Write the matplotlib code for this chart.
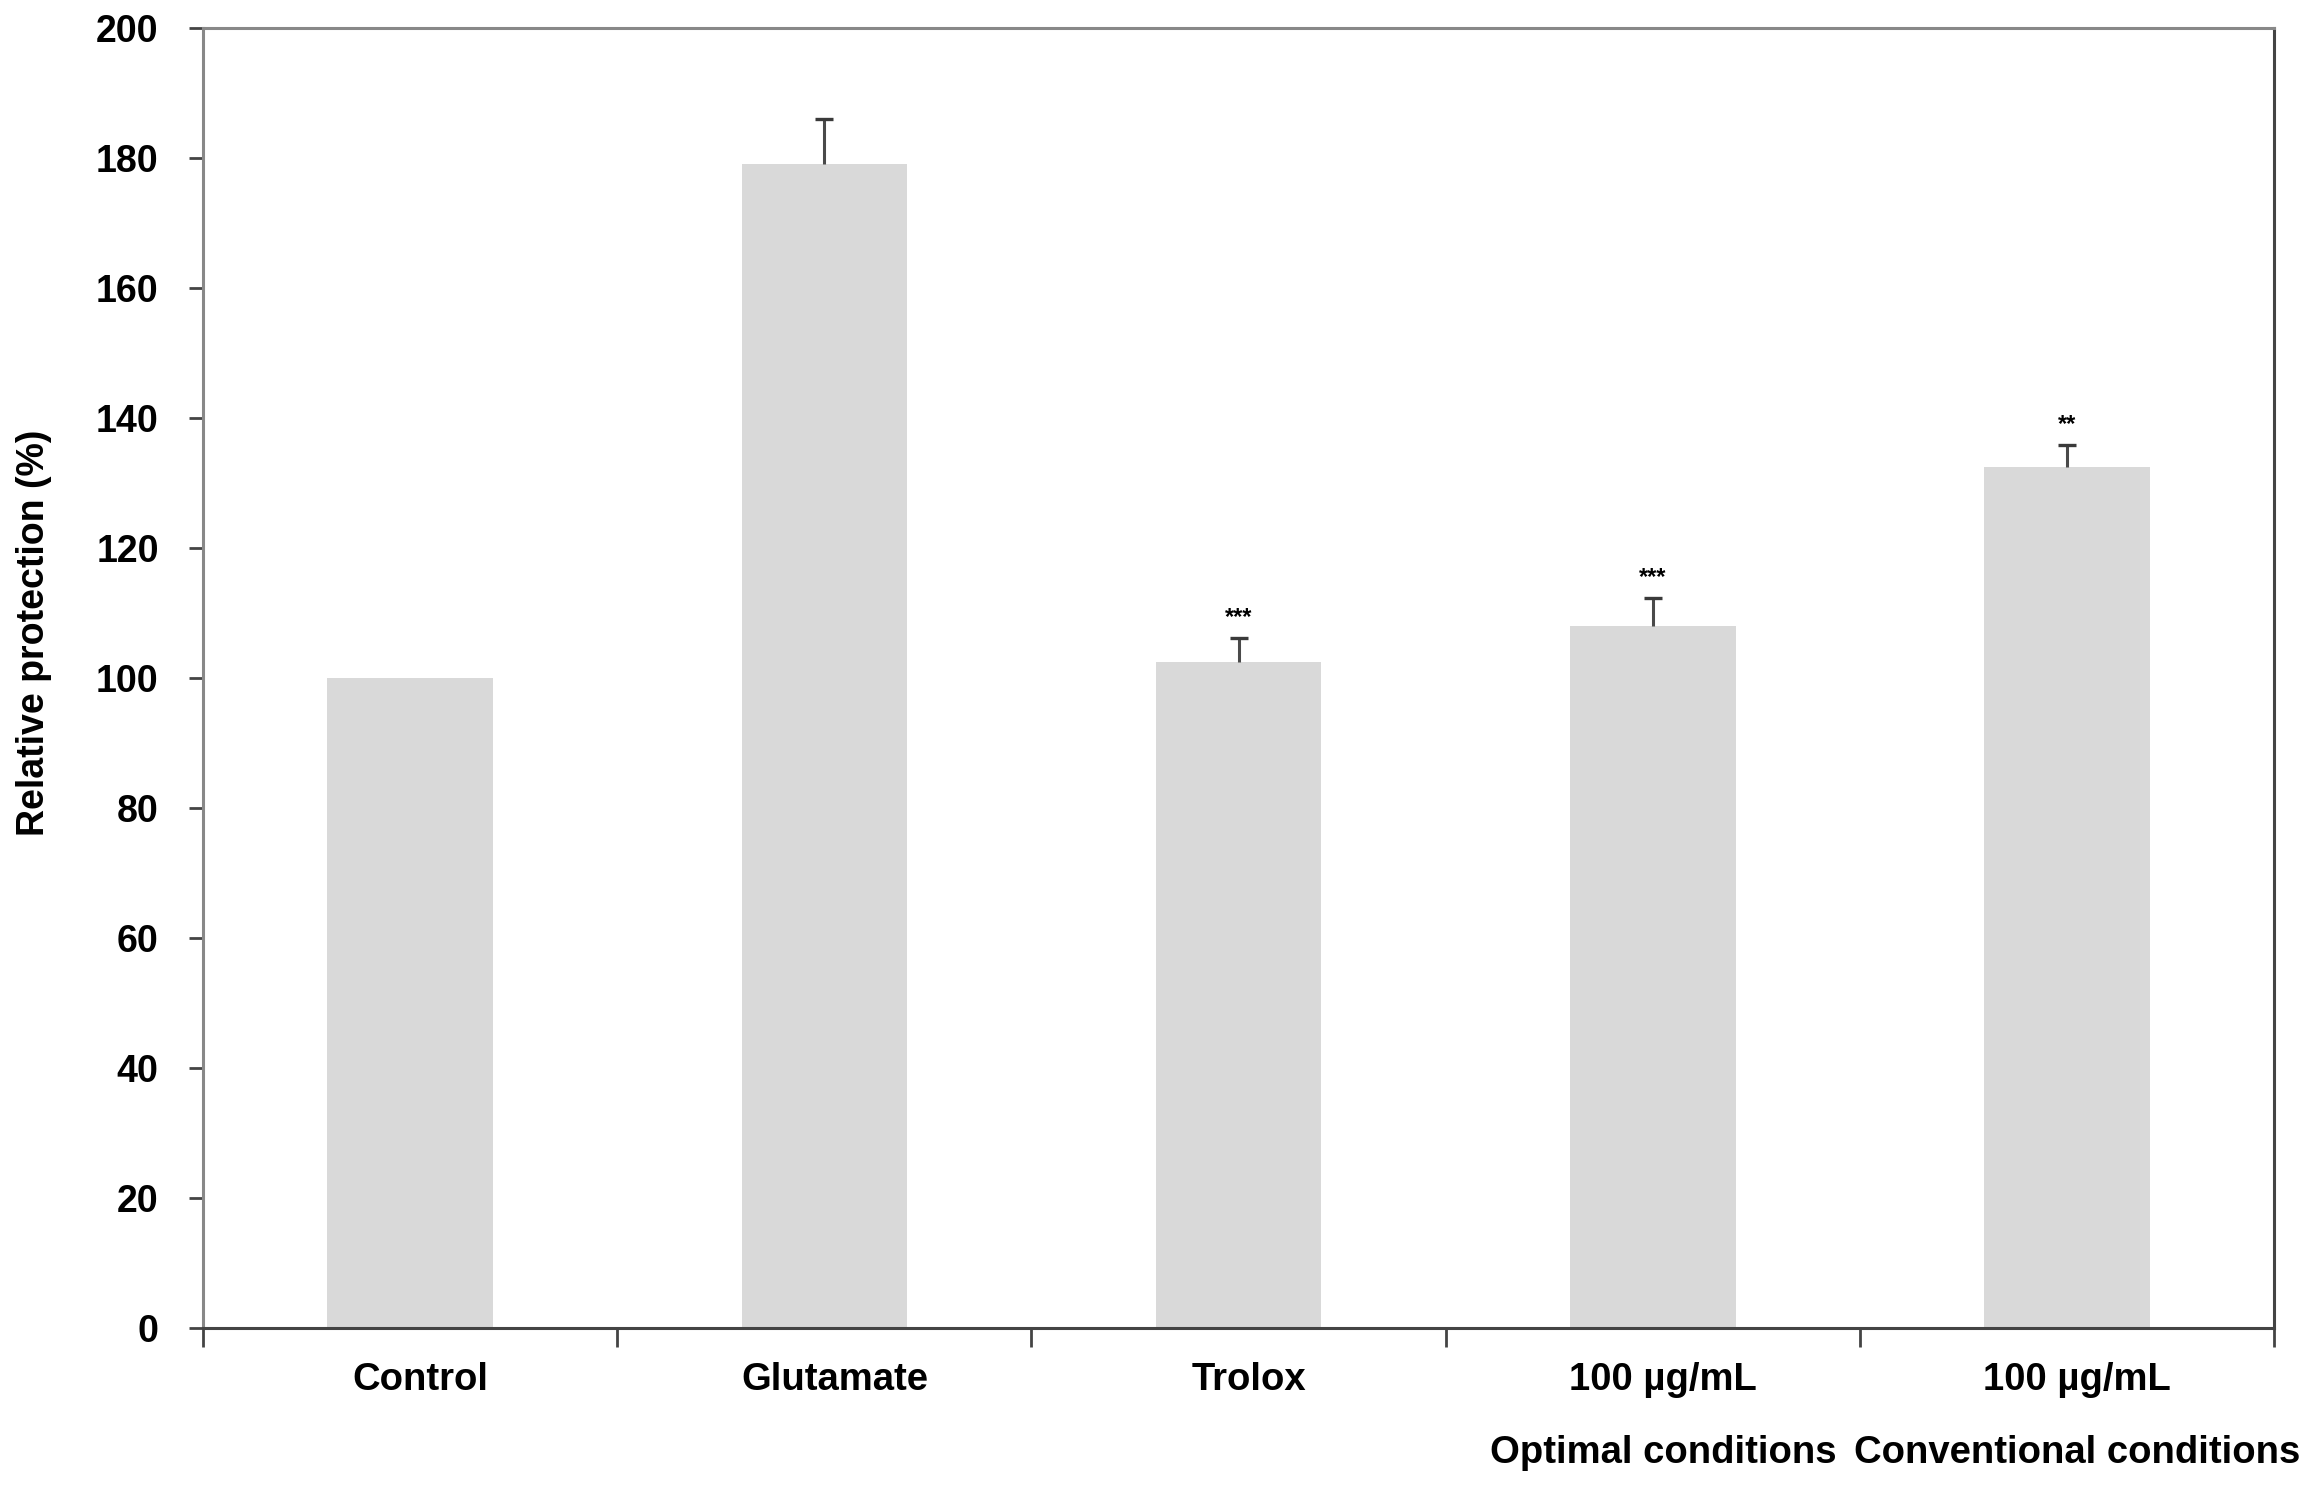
import matplotlib
matplotlib.use('Agg')
import matplotlib.pyplot as plt
import numpy as np

# data
groups = ['Control', 'Glutamate', 'Trolox', '100 µg/mL', '100 µg/mL']
subtitles = ['', '', '', 'Optimal conditions', 'Conventional conditions']
values = [100, 179, 102.5, 108, 132.5]
errors = [0, 7, 3.6, 4.3, 3.3]
stars = ['', '', '***', '***', '**']

plt.rcParams['font.family'] = ['Liberation Sans', 'DejaVu Sans']
plt.rcParams['font.weight'] = 'bold'

fig = plt.figure(figsize=(23.05, 14.86), dpi=100)
ax = fig.add_axes([0.0881, 0.1063, 0.8985, 0.8749])

x = np.arange(len(groups))
ax.bar(x, values, width=0.4, color='#d9d9d9', zorder=2)

# one-sided error bars: stem plus a cap on top only
has_err = [i for i, e in enumerate(errors) if e > 0]
ex = x[has_err]
ev = np.array(values)[has_err]
ee = np.array(errors)[has_err]
ax.errorbar(ex, ev, yerr=[np.zeros(len(ee)), ee], fmt='none',
            ecolor='#4a4a4a', elinewidth=2.2, capsize=0, zorder=3)
ax.plot(ex, ev + ee, ls='none', marker='_', markersize=13,
        markeredgewidth=2.4, color='#3a3a3a', zorder=3)

for xi, v, e, s in zip(x, values, errors, stars):
    if s:
        ax.text(xi, v + e + 3.2, s, ha='center', va='center', fontsize=17,
                fontweight='bold', color='black')

ax.set_xlim(-0.5, len(groups) - 0.5)
ax.set_ylim(0, 200)
ax.set_yticks(range(0, 201, 20))
ax.tick_params(axis='y', labelsize=27, length=10, width=2, colors='#444444',
               labelcolor='black', pad=22)
for lab in ax.get_yticklabels():
    lab.set_fontweight('bold')

# category boundaries as x ticks, labels as plain text
ax.set_xticks(np.arange(-0.5, len(groups), 1.0))
ax.set_xticklabels([])
ax.tick_params(axis='x', length=14, width=2, colors='#444444')

for xi, g, sub in zip(x, groups, subtitles):
    ax.text(xi + 0.025, -0.04, g, transform=ax.get_xaxis_transform(),
            ha='center', va='center', fontsize=27.5, fontweight='bold')
    if sub:
        ax.text(xi + 0.025, -0.096, sub, transform=ax.get_xaxis_transform(),
                ha='center', va='center', fontsize=27.5, fontweight='bold')

ax.set_ylabel('Relative protection (%)', fontsize=27, fontweight='bold')
ax.yaxis.set_label_coords(-0.073, 0.535)

ax.spines['left'].set_color('#888888')
ax.spines['top'].set_color('#888888')
ax.spines['bottom'].set_color('#444444')
ax.spines['right'].set_color('#444444')
for sp in ax.spines.values():
    sp.set_linewidth(2.2)

plt.savefig('out.png', dpi=100)
